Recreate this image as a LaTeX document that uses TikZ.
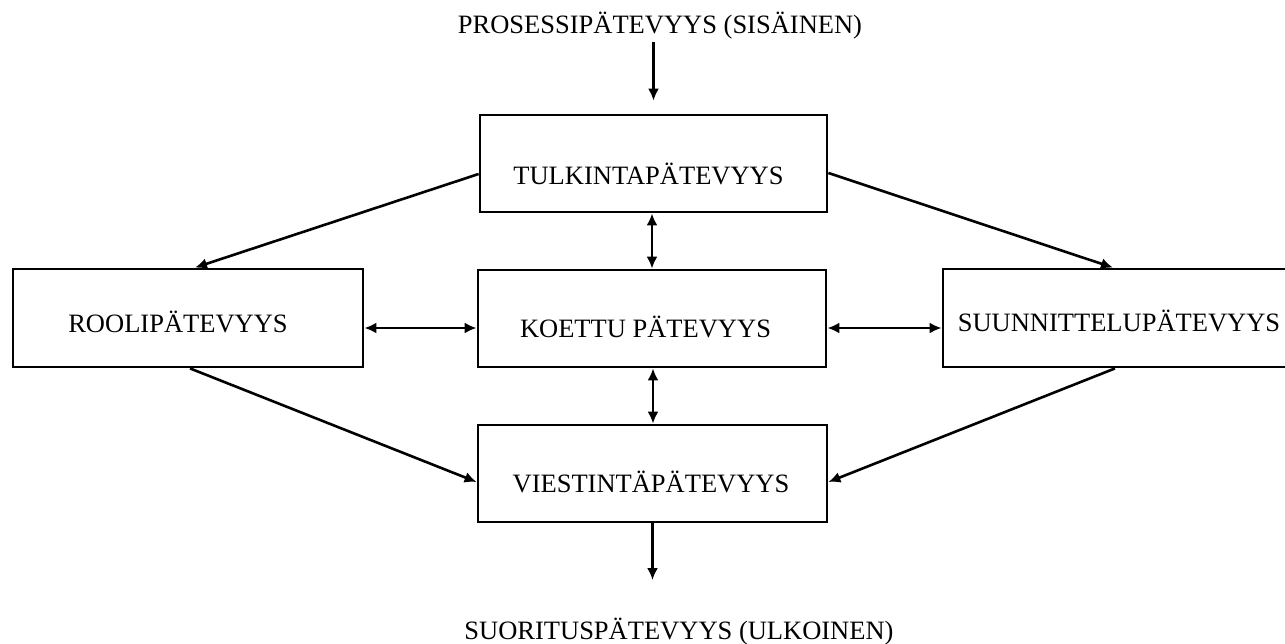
\documentclass[tikz,border=0pt]{standalone}
\usepackage{fontspec}
\setmainfont{Liberation Serif}
\usetikzlibrary{arrows.meta}
\begin{document}
\begin{tikzpicture}[x=1pt,y=-1pt,
  every node/.style={font=\fontsize{26.5}{30}\selectfont},
  box/.style={draw, line width=2.8pt, inner sep=0pt, minimum height=97pt, minimum width=347pt},
  txt/.style={inner sep=0pt, text height=17.5pt, text depth=0pt},
  arr/.style={line width=2.6pt, -{Latex[length=12pt,width=11pt]}},
  darr/.style={line width=2.6pt, {Latex[length=12pt,width=11pt]}-{Latex[length=12pt,width=11pt]}}
]
\useasboundingbox[fill=white] (0,0) rectangle (1285,643);
\clip (0,0) rectangle (1285,643);

\node[txt] (ptop) at (660,24.5) {PROSESSIPÄTEVYYS (SISÄINEN)};
\node[txt] (psuor) at (679,631) {SUORITUSPÄTEVYYS (ULKOINEN)};

\node[box, label={[txt,xshift=-5pt,yshift=-12.5pt]center:TULKINTAPÄTEVYYS}] (tulk) at (653.5,163.5) {};
\node[box, minimum width=348pt, label={[txt,xshift=-6.5pt,yshift=-10.5pt]center:KOETTU PÄTEVYYS}] (koet) at (652,318.5) {};
\node[box, minimum width=349pt, label={[txt,xshift=-1.5pt,yshift=-10.5pt]center:VIESTINTÄPÄTEVYYS}] (viest) at (652.5,473.5) {};
\node[box, minimum width=350pt, minimum height=98pt, label={[txt,xshift=-10pt,yshift=-5.5pt]center:ROOLIPÄTEVYYS}] (rooli) at (188,318) {};
\node[box, minimum height=98pt, label={[txt,xshift=2.5pt,yshift=-5pt]center:SUUNNITTELUPÄTEVYYS}] (suun) at (1116.5,318) {};

\draw[arr, shorten <=9pt, shorten >=13pt] (ptop.south -| tulk.north) -- (tulk.north);
\draw[arr, shorten >=42pt] (viest.south) -- (viest.south |- psuor.north);

\draw[arr] ([yshift=-10.5pt]tulk.west) -- ([xshift=7pt]rooli.north);
\draw[arr] ([yshift=-9.5pt]tulk.east) -- ([xshift=-3.5pt]suun.north);
\draw[arr] ([xshift=2pt]rooli.south) -- ([yshift=-8.5pt]viest.west);
\draw[arr] ([xshift=-1.5pt]suun.south) -- ([yshift=-8.5pt]viest.east);

\draw[darr] ([yshift=-10pt]rooli.east) -- ([yshift=-9.5pt]koet.west);
\draw[darr] ([yshift=-9.5pt]koet.east) -- ([yshift=-10pt]suun.west);
\draw[darr] ([xshift=-1.5pt]tulk.south) -- (koet.north);
\draw[darr] ([xshift=1pt]koet.south) -- ([xshift=0.5pt]viest.north);
\end{tikzpicture}
\end{document}
